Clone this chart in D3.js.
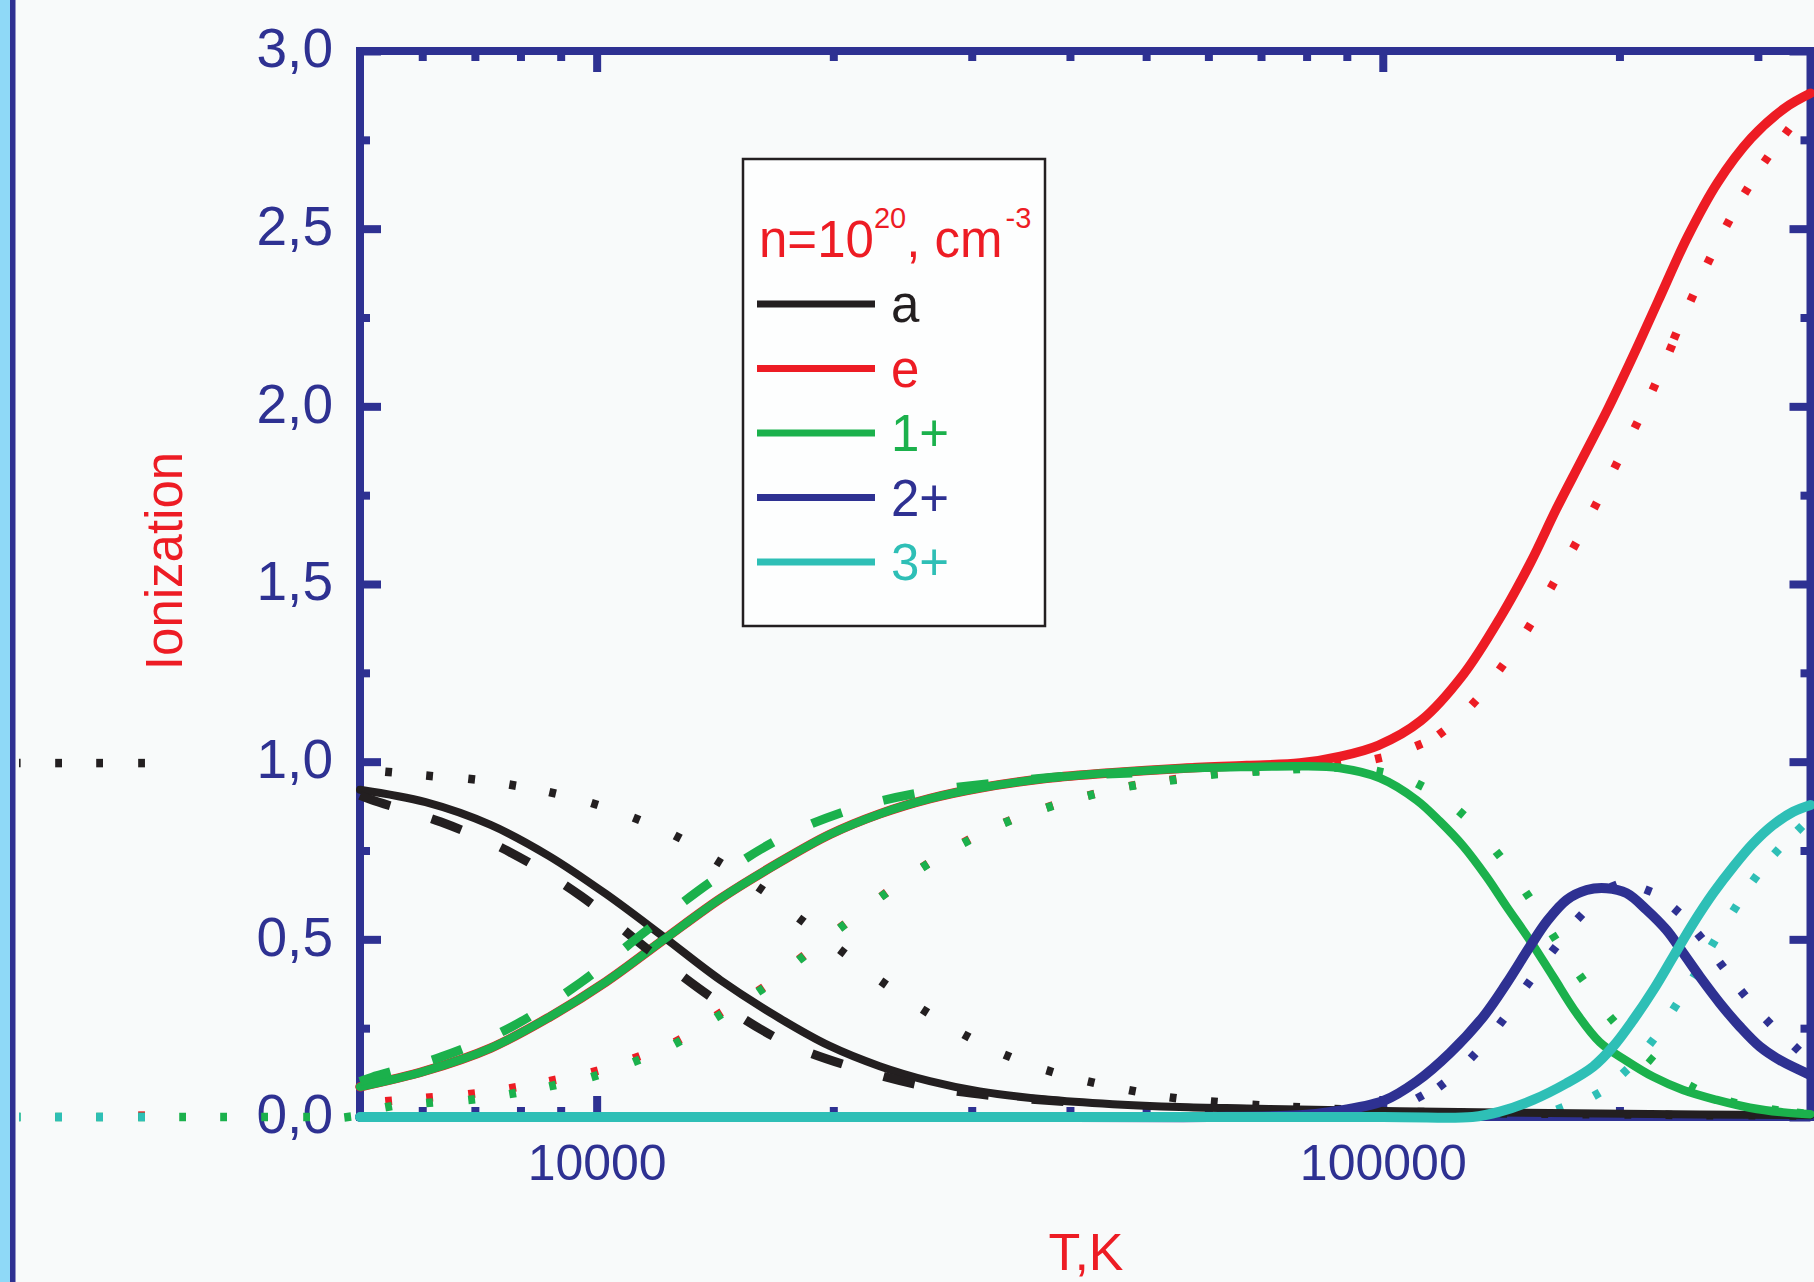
<!DOCTYPE html>
<html>
<head>
<meta charset="utf-8">
<script src="https://cdn.jsdelivr.net/npm/d3@7"></script>
<style>
  html, body { margin: 0; padding: 0; background: #f8fafa; }
  svg { display: block; }
  text { font-family: "Liberation Sans", Arial, Helvetica, sans-serif; }
</style>
</head>
<body>
<svg id="chart" width="1814" height="1282"></svg>
<script>
// ---- Axis ticks and labels ----
const majorX = [10000, 100000];
const xTickLabels = ["10000", "100000"];
const minorX = [6000, 7000, 8000, 9000, 20000, 30000, 40000, 50000, 60000, 70000, 80000, 90000, 200000, 300000];
const majorY = [0, 0.5, 1.0, 1.5, 2.0, 2.5, 3.0];
const yTickLabels = ["0,0", "0,5", "1,0", "1,5", "2,0", "2,5", "3,0"];
const minorY = [0.25, 0.75, 1.25, 1.75, 2.25, 2.75];

// ---- Legend ----
const legendKeys = ["a", "e", "1+", "2+", "3+"];

// ---- Solid curves: [T (K), ionization] ----
const aSolid = [[5000,0.921],[6060,0.886],[7330,0.822],[8690,0.735],[10270,0.628],[12150,0.508],[14380,0.385],[17090,0.278],[19790,0.200],[22910,0.143],[26530,0.101],[30710,0.072],[37360,0.049],[45340,0.036],[55170,0.028],[67140,0.024],[78410,0.021],[105000,0.016],[163000,0.011],[253000,0.007],[350000,0.005]];
const eSolid = [[5000,0.085],[6060,0.130],[7330,0.194],[8690,0.280],[10270,0.380],[12150,0.498],[14380,0.615],[17090,0.717],[19790,0.795],[22910,0.853],[26530,0.896],[30710,0.926],[37360,0.953],[45340,0.969],[55170,0.981],[67140,0.989],[78410,0.996],[88320,1.015],[98740,1.046],[111760,1.115],[126570,1.245],[141530,1.411],[154300,1.562],[166340,1.712],[179140,1.850],[192960,1.989],[207870,2.139],[223970,2.296],[244300,2.478],[266500,2.629],[294270,2.755],[324940,2.840],[350000,2.881]];
const ion1Solid = [[5000,0.085],[6060,0.130],[7330,0.194],[8690,0.280],[10270,0.380],[12150,0.498],[14380,0.615],[17090,0.717],[19790,0.795],[22910,0.853],[26530,0.896],[30710,0.926],[37360,0.953],[45340,0.969],[55170,0.980],[67140,0.985],[78410,0.987],[88150,0.982],[99130,0.954],[110400,0.892],[118200,0.832],[126600,0.762],[135500,0.676],[143700,0.592],[153800,0.498],[164700,0.395],[176400,0.292],[188900,0.210],[204200,0.158],[220800,0.113],[241000,0.076],[265800,0.048],[293100,0.026],[323100,0.013],[350000,0.008]];
const ion2Solid = [[5000,0],[40000,0],[60000,0],[78400,0.005],[86400,0.015],[100100,0.045],[110400,0.100],[121700,0.180],[134200,0.282],[143700,0.376],[153800,0.479],[161600,0.550],[171300,0.611],[181700,0.639],[192600,0.644],[204200,0.630],[216600,0.583],[229600,0.526],[241100,0.461],[253100,0.395],[268500,0.320],[284700,0.254],[301800,0.198],[320000,0.160],[350000,0.118]];
const ion3Solid = [[5000,0],[100000,0],[130000,0],[140900,0.015],[155300,0.048],[171300,0.095],[185200,0.142],[196300,0.198],[208200,0.273],[220800,0.357],[234100,0.451],[248200,0.545],[263200,0.630],[279100,0.704],[295900,0.770],[313800,0.822],[332700,0.859],[350000,0.878]];

// ---- Dashed curves ----
const aDashed = [[5000,0.905],[5180,0.892],[6340,0.830],[7750,0.746],[9550,0.622],[11640,0.470],[14250,0.325],[17400,0.209],[21300,0.138],[26000,0.088],[31900,0.060],[40000,0.042]];
const ion1Dashed = [[5000,0.100],[5180,0.112],[6360,0.170],[7800,0.254],[9550,0.379],[11640,0.529],[14250,0.675],[17400,0.792],[21300,0.869],[26000,0.914],[31900,0.939],[39000,0.958],[48000,0.968]];

// ---- Dotted curves (one entry per dot) ----
const aDotted = [[1832,0.996],[2068,0.996],[2332,0.996],[2637,0.996],[5437,0.971],[6130,0.960],[6934,0.951],[7819,0.934],[8790,0.912],[9942,0.881],[11240,0.839],[12680,0.788],[14300,0.718],[16170,0.642],[18215,0.554],[20540,0.465],[23180,0.377],[26165,0.298],[29540,0.228],[33310,0.172],[37700,0.129],[42560,0.098],[48030,0.074],[54100,0.054],[61040,0.043],[68940,0.034],[77670,0.028],[87650,0.022],[99130,0.017],[111800,0.014],[126100,0.012],[142500,0.010],[160700,0.009],[181300,0.008],[205000,0.007],[231200,0.006],[260600,0.005],[294800,0.005],[332400,0.004]];
const eDotted = [[2637,0.004],[5437,0.045],[6130,0.055],[6934,0.065],[7819,0.082],[8790,0.103],[9942,0.128],[11240,0.168],[12680,0.215],[14300,0.290],[16170,0.360],[18215,0.449],[20540,0.538],[23180,0.626],[26165,0.708],[29540,0.777],[33310,0.832],[37700,0.874],[42560,0.907],[48030,0.933],[54100,0.950],[61040,0.966],[68940,0.975],[77670,0.985],[87650,0.995],[98740,1.009],[111120,1.047],[118700,1.081],[130600,1.166],[141500,1.266],[153400,1.379],[164300,1.496],[175400,1.608],[186400,1.721],[197900,1.834],[210000,1.947],[221300,2.054],[232500,2.164],[235400,2.198],[247300,2.305],[259900,2.410],[274800,2.516],[290000,2.607],[307400,2.695],[326900,2.774]];
const ion1Dotted = [[1832,0],[2068,0],[2332,0],[2637,0],[2974,0],[3353,0],[3781,0],[4276,0],[4823,0],[5437,0.029],[6130,0.040],[6934,0.049],[7819,0.066],[8790,0.088],[9942,0.115],[11240,0.158],[12680,0.210],[14300,0.285],[16170,0.357],[18215,0.447],[20540,0.537],[23180,0.625],[26165,0.707],[29540,0.775],[33310,0.831],[37700,0.873],[42560,0.906],[48030,0.932],[54100,0.948],[61040,0.964],[68940,0.972],[77670,0.979],[87650,0.983],[99130,0.972],[111500,0.934],[125900,0.855],[140200,0.740],[152800,0.625],[165100,0.507],[178900,0.392],[195700,0.275],[219300,0.162],[247700,0.084],[279100,0.041],[315300,0.020],[339300,0.011]];
const ion2Dotted = [[111500,0.057],[118800,0.090],[130300,0.172],[141600,0.268],[153100,0.376],[165100,0.472],[178100,0.564],[196700,0.650],[217600,0.637],[236400,0.581],[253100,0.509],[269700,0.428],[287300,0.348],[309200,0.268],[336000,0.193]];
const ion3Dotted = [[1832,0],[2068,0],[2332,0],[2637,0],[168000,0.024],[187100,0.064],[203300,0.128],[219800,0.212],[235300,0.310],[249500,0.400],[263200,0.489],[280500,0.587],[297400,0.672],[316900,0.747],[339200,0.812]];

// ---- Colours ----
const C = {
  bg: "#f8fafa",
  axis: "#2e3192",
  black: "#231f20",
  red: "#ed1c24",
  green: "#1bb14c",
  blue: "#2e3192",
  cyan: "#2ebfb6",
  band: "#8fd9f7"
};
const legendColors = [C.black, C.red, C.green, C.blue, C.cyan];

// ---- Layout ----
const W = 1814, H = 1282;
const plot = { left: 360, right: 1810.5, top: 51, bottom: 1117 };

const svg = d3.select("#chart");
const x = d3.scaleLog().domain([5000, 350000]).range([plot.left, plot.right]);
const y = d3.scaleLinear().domain([0, 3]).range([plot.bottom, plot.top]);

// page background and the slide's left edge band
svg.append("rect").attr("width", W).attr("height", H).attr("fill", C.bg);
svg.append("rect").attr("x", 0).attr("y", 0).attr("width", 10).attr("height", H).attr("fill", C.band);
svg.append("rect").attr("x", 10).attr("y", 0).attr("width", 5.5).attr("height", H).attr("fill", C.axis);

// ---- Frame ----
svg.append("rect")
  .attr("x", plot.left).attr("y", plot.top)
  .attr("width", plot.right - plot.left).attr("height", plot.bottom - plot.top)
  .attr("fill", "none").attr("stroke", C.axis).attr("stroke-width", 8);

function styleAxis(g) {
  g.select(".domain").remove();
  g.selectAll(".tick line").attr("stroke", C.axis).attr("stroke-width", 8);
  g.selectAll(".tick text").attr("fill", C.axis);
}

// bottom axis: labelled majors, minors, all ticks pointing inward
svg.append("g").attr("transform", `translate(0,${plot.bottom})`)
  .call(d3.axisBottom(x).tickValues(majorX).tickSize(-21).tickPadding(27)
    .tickFormat((d, i) => xTickLabels[i]))
  .call(styleAxis)
  .call(g => g.selectAll(".tick text").attr("font-size", 50)
    .attr("font-family", '"Liberation Sans", Arial, sans-serif'));
svg.append("g").attr("transform", `translate(0,${plot.bottom})`)
  .call(d3.axisBottom(x).tickValues(minorX).tickSize(-10).tickFormat(""))
  .call(styleAxis);

// top axis
svg.append("g").attr("transform", `translate(0,${plot.top})`)
  .call(d3.axisTop(x).tickValues(majorX).tickSize(-21).tickFormat(""))
  .call(styleAxis);
svg.append("g").attr("transform", `translate(0,${plot.top})`)
  .call(d3.axisTop(x).tickValues(minorX).tickSize(-10).tickFormat(""))
  .call(styleAxis);

// left axis
svg.append("g").attr("transform", `translate(${plot.left},0)`)
  .call(d3.axisLeft(y).tickValues(majorY).tickSize(-21).tickPadding(27)
    .tickFormat((d, i) => yTickLabels[i]))
  .call(styleAxis)
  .call(g => g.selectAll(".tick text").attr("font-size", 55).attr("dy", "0.29em")
    .attr("font-family", '"Liberation Sans", Arial, sans-serif'));
svg.append("g").attr("transform", `translate(${plot.left},0)`)
  .call(d3.axisLeft(y).tickValues(minorY).tickSize(-10).tickFormat(""))
  .call(styleAxis);

// right axis
svg.append("g").attr("transform", `translate(${plot.right},0)`)
  .call(d3.axisRight(y).tickValues(majorY).tickSize(-21).tickFormat(""))
  .call(styleAxis);
svg.append("g").attr("transform", `translate(${plot.right},0)`)
  .call(d3.axisRight(y).tickValues(minorY).tickSize(-10).tickFormat(""))
  .call(styleAxis);

// ---- Axis titles ----
svg.append("text")
  .attr("transform", "translate(182,561) rotate(-90)")
  .attr("text-anchor", "middle").attr("font-size", 51).attr("fill", C.red)
  .text("Ionization");
svg.append("text")
  .attr("x", 1086).attr("y", 1270)
  .attr("text-anchor", "middle").attr("font-size", 52).attr("fill", C.red)
  .text("T,K");

// ---- Dotted curves: each dot is a short segment aligned with the curve ----
svg.append("clipPath").attr("id", "dotClip")
  .append("rect").attr("x", 19).attr("y", 0).attr("width", W - 19).attr("height", H);
const dotLayer = svg.append("g").attr("clip-path", "url(#dotClip)");

function drawDots(data, color) {
  const pts = data.map(d => [x(d[0]), y(d[1])]);
  const near = (a, b) => Math.hypot(a[0] - b[0], a[1] - b[1]) < 90;
  const segs = pts.map((p, i) => {
    const prev = (i > 0 && near(pts[i - 1], p)) ? pts[i - 1] : p;
    const next = (i < pts.length - 1 && near(pts[i + 1], p)) ? pts[i + 1] : p;
    let dx = next[0] - prev[0], dy = next[1] - prev[1];
    const len = Math.hypot(dx, dy) || 1;
    if (prev === next) { dx = 1; dy = 0; } else { dx /= len; dy /= len; }
    const h = 3.4;
    return [p[0] - dx * h, p[1] - dy * h, p[0] + dx * h, p[1] + dy * h];
  });
  dotLayer.append("g").selectAll("line").data(segs).join("line")
    .attr("x1", s => s[0]).attr("y1", s => s[1])
    .attr("x2", s => s[2]).attr("y2", s => s[3])
    .attr("stroke", color).attr("stroke-width", 8.5).attr("stroke-linecap", "butt");
}
drawDots(eDotted, C.red);
drawDots(ion1Dotted, C.green);
drawDots(aDotted, C.black);
drawDots(ion2Dotted, C.blue);
drawDots(ion3Dotted, C.cyan);

// ---- Solid and dashed curves ----
const line = d3.line()
  .x(d => x(d[0])).y(d => y(d[1]))
  .curve(d3.curveCatmullRom.alpha(0.5));

function drawCurve(data, color, width, dash) {
  svg.append("path").datum(data)
    .attr("d", line)
    .attr("fill", "none")
    .attr("stroke", color)
    .attr("stroke-width", width)
    .attr("stroke-linecap", dash ? "butt" : "round")
    .attr("stroke-linejoin", "round")
    .attr("stroke-dasharray", dash || null);
}
drawCurve(eSolid, C.red, 9.5);
drawCurve(aSolid, C.black, 8);
drawCurve(ion1Solid, C.green, 8.5);
drawCurve(ion2Solid, C.blue, 10);
drawCurve(ion3Solid, C.cyan, 10);
drawCurve(aDashed, C.black, 9, "32 43");
drawCurve(ion1Dashed, C.green, 9, "32 43");

// ---- Legend ----
const legend = svg.append("g");
legend.append("rect")
  .attr("x", 743).attr("y", 159).attr("width", 302).attr("height", 467)
  .attr("fill", "#fdfefe").attr("stroke", C.black).attr("stroke-width", 2.5);

const title = legend.append("text")
  .attr("x", 759).attr("y", 257).attr("fill", C.red).attr("font-size", 51);
title.append("tspan").text("n=10");
title.append("tspan").attr("font-size", 29).attr("dy", -29).text("20");
title.append("tspan").attr("font-size", 51).attr("dy", 29).text(", cm");
title.append("tspan").attr("font-size", 29).attr("dy", -29).attr("dx", 3).text("-3");

const items = legend.selectAll("g.item").data(legendKeys).join("g")
  .attr("class", "item")
  .attr("transform", (d, i) => `translate(0,${304 + i * 64.5})`);
items.append("line")
  .attr("x1", 757).attr("x2", 875).attr("y1", 0).attr("y2", 0)
  .attr("stroke", (d, i) => legendColors[i]).attr("stroke-width", 7);
items.append("text")
  .attr("x", 891).attr("y", 18).attr("font-size", 51)
  .attr("fill", (d, i) => legendColors[i])
  .text(d => d);
</script>
</body>
</html>
